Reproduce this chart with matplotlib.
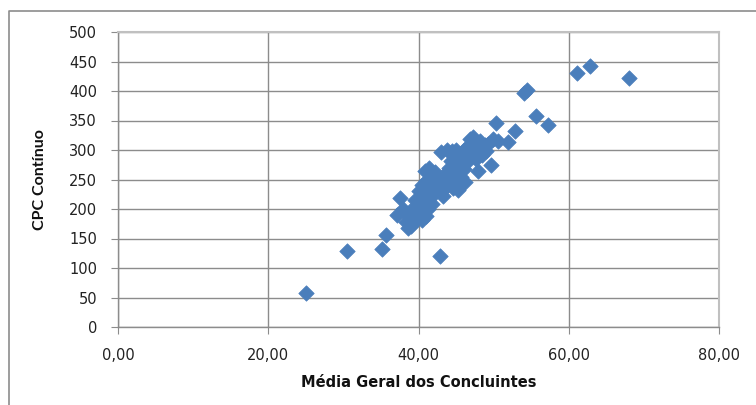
import matplotlib.pyplot as plt
from matplotlib.lines import Line2D
from matplotlib.ticker import FuncFormatter

plt.rcParams['font.family'] = ['DejaVu Sans']

# Média Geral dos Concluintes
media = [25.0, 30.5, 35.1, 35.7, 42.8,
         37.2, 37.6, 38.0, 38.3, 38.6, 38.9, 39.0, 39.2, 39.4, 39.6,
         39.8, 40.0, 40.0, 40.2, 40.4, 40.5, 40.6, 40.8, 40.9, 41.0,
         41.2, 41.3, 41.5, 41.6, 41.8, 42.0, 42.2, 42.4, 42.5, 42.8,
         43.0, 43.1, 43.3, 43.5, 43.7, 44.0, 44.2, 44.3, 44.5, 44.6,
         44.8, 45.0, 45.1, 45.3, 45.5, 45.6, 45.8, 46.0, 46.2, 46.4,
         46.5, 46.8, 47.0, 47.2, 47.4, 47.6, 47.9, 48.0, 48.2, 48.5,
         48.8, 49.0, 49.3, 49.7, 49.9, 50.3, 50.6, 51.9, 52.8, 54.1,
         54.5, 55.6, 57.2, 61.1, 62.8, 68.0,
         38.5, 39.5, 40.3, 41.0, 41.4, 43.8, 44.9, 46.0, 47.2]
# CPC Contínuo
cpc = [58, 128, 132, 156, 121,
       190, 218, 200, 178, 168, 185, 172, 195, 178, 205,
       188, 215, 230, 198, 240, 182, 222, 265, 210, 248,
       235, 200, 258, 220, 208, 240, 262, 250, 235, 228,
       297, 245, 222, 260, 238, 270, 250, 282, 298, 235,
       262, 300, 245, 232, 278, 255, 290, 268, 245, 305,
       280, 318, 295, 322, 305, 285, 264, 300, 315, 292,
       308, 298, 310, 275, 318, 346, 315, 313, 332, 397,
       401, 357, 342, 431, 442, 422,
       192, 215, 205, 188, 270, 300, 275, 300, 300]

x_ticks = [0, 20, 40, 60, 80]
y_ticks = list(range(0, 501, 50))

fig = plt.figure(figsize=(7.56, 4.05), dpi=100)
ax = fig.add_axes([118 / 756, 78 / 405, 601 / 756, 295 / 405])

# outer chart frame (left and top edges only are visible)
fx, fy = 8.5 / 756, 1 - 11 / 405
fig.lines.append(Line2D([fx, fx, 1.0], [0.0, fy, fy], transform=fig.transFigure,
                        color='#8c8c8c', linewidth=1.2))

ax.scatter(media, cpc, marker='D', s=62, color='#4a7ebb',
           edgecolors='#4a7ebb', linewidths=0.5, zorder=3)

ax.set_xlim(0, 80)
ax.set_ylim(0, 500)
ax.set_xticks(x_ticks)
ax.set_yticks(y_ticks)
ax.xaxis.set_major_formatter(FuncFormatter(lambda v, p: f'{v:.2f}'.replace('.', ',')))
ax.grid(True, color='#8c8c8c', linewidth=1)
ax.set_axisbelow(True)

for s in ['top', 'right']:
    ax.spines[s].set_color('#c0c0c0')
    ax.spines[s].set_linewidth(1.5)
for s in ['left', 'bottom']:
    ax.spines[s].set_color('#8c8c8c')
    ax.spines[s].set_linewidth(1)

ax.tick_params(axis='both', length=5, color='#8c8c8c', labelsize=10.5,
               labelcolor='#222222')
ax.tick_params(axis='x', pad=10)
ax.tick_params(axis='y', pad=10)

ax.set_xlabel('Média Geral dos Concluintes', fontsize=10.5, fontweight='bold',
              labelpad=9, color='#111111')
ax.set_ylabel('CPC Contínuo', fontsize=11.5, fontweight='bold',
              family=['Lato', 'DejaVu Sans'], labelpad=16, color='#111111')

fig.savefig('out.png', dpi=100)
